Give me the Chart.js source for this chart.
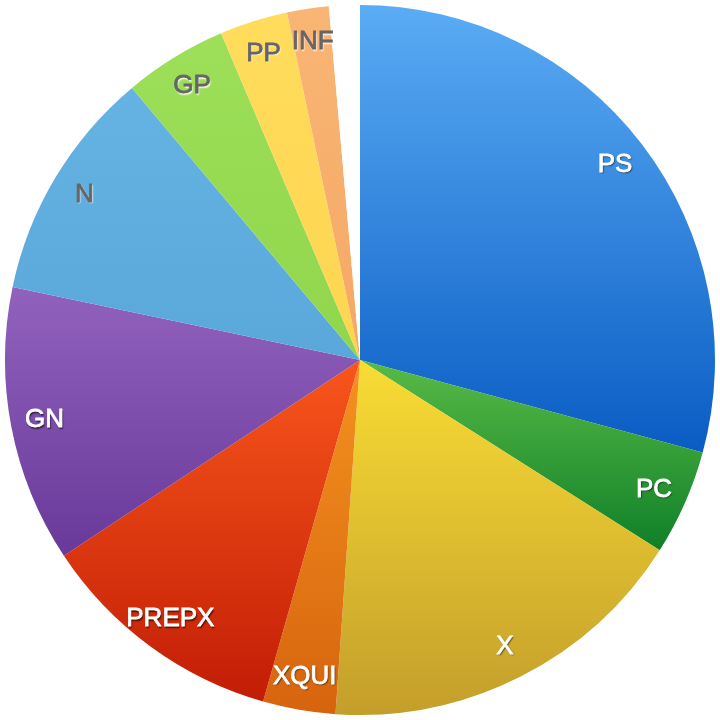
<!DOCTYPE html>
<html lang="en">
  <head>
    <meta charset="UTF-8" />
    <title>Pie</title>
    <script src="https://cdn.jsdelivr.net/npm/chart.js@4"></script>
    <style>
      body { margin: 0; background: #fff; }
    </style>
  </head>
  <body>
    <canvas id="myChart" width="720" height="720"></canvas>

    <script>
      // share of each group (percent)
      const labels = ['PS', 'PC', 'X', 'XQUI', 'PREPX', 'GN', 'N', 'GP', 'PP', 'INF', ''];
      const values = [29.2, 4.8, 17.1, 3.3, 11.3, 12.6, 10.6, 4.7, 3.1, 1.9, 1.4];
      // light (top) / dark (bottom) shade of each slice
      const lightColors = ['#5aacf4', '#58bb46', '#f9dc34', '#f5921f', '#f8561c', '#9162bd', '#65b3e2', '#9ddf58', '#ffdc5c', '#f9b574', '#ffffff'];
      const darkColors = ['#0a5cc4', '#0f7f28', '#c49e2b', '#d6640e', '#c21d06', '#69399a', '#5aa8da', '#90d64d', '#fdd550', '#f5a866', '#ffffff'];
      const darkText = ['GP', 'N', 'PP', 'INF'];

      // vertical extent of slice i, so each slice gets its own top-to-bottom shade
      function sliceSpan(i, cy, r) {
        const total = values.reduce((a, b) => a + b, 0);
        const before = values.slice(0, i).reduce((a, b) => a + b, 0);
        const a0 = -Math.PI / 2 + before / total * 2 * Math.PI;
        const a1 = a0 + values[i] / total * 2 * Math.PI;
        let top = cy, bottom = cy;
        for (let k = 0; k <= 40; k++) {
          const y = cy + Math.sin(a0 + (a1 - a0) * k / 40) * r;
          top = Math.min(top, y);
          bottom = Math.max(bottom, y);
        }
        return [top, bottom];
      }

      function sliceFill(ctx) {
        const chart = ctx.chart;
        const area = chart.chartArea;
        const i = ctx.dataIndex;
        if (!area) return lightColors[i];
        const cy = (area.top + area.bottom) / 2;
        const r = Math.min(area.right - area.left, area.bottom - area.top) / 2;
        const [top, bottom] = sliceSpan(i, cy, r);
        const g = chart.ctx.createLinearGradient(0, top, 0, bottom);
        g.addColorStop(0, lightColors[i]);
        g.addColorStop(1, darkColors[i]);
        return g;
      }

      const sliceLabels = {
        id: 'sliceLabels',
        afterDatasetsDraw(chart) {
          const c = chart.ctx;
          const arcs = chart.getDatasetMeta(0).data;
          c.save();
          c.font = '26px "Liberation Sans", Arial, sans-serif';
          c.textAlign = 'center';
          c.textBaseline = 'middle';
          c.lineWidth = 0.8;
          arcs.forEach((arc, i) => {
            if (!labels[i]) return;
            const p = arc.getProps(['x', 'y', 'startAngle', 'endAngle', 'outerRadius'], true);
            const mid = (p.startAngle + p.endAngle) / 2;
            const r = p.outerRadius * 0.905;
            const x = p.x + Math.cos(mid) * r;
            const y = p.y + Math.sin(mid) * r;
            const dark = darkText.includes(labels[i]);
            c.shadowColor = dark ? 'rgba(255,255,255,0.9)' : 'rgba(0,0,0,0.65)';
            c.shadowOffsetX = 1;
            c.shadowOffsetY = 1.5;
            c.shadowBlur = 1.5;
            c.fillStyle = dark ? '#666666' : '#ffffff';
            c.strokeStyle = c.fillStyle;
            c.fillText(labels[i], x, y);
            c.shadowColor = 'transparent';
            c.strokeText(labels[i], x, y);
          });
          c.restore();
        }
      };

      new Chart(document.getElementById('myChart'), {
        type: 'pie',
        data: {
          labels: labels,
          datasets: [{
            data: values,
            backgroundColor: sliceFill,
            borderWidth: 0
          }]
        },
        options: {
          responsive: false,
          animation: false,
          layout: { padding: 5 },
          plugins: {
            legend: { display: false },
            tooltip: { enabled: false }
          }
        },
        plugins: [sliceLabels]
      });
    </script>
  </body>
</html>
